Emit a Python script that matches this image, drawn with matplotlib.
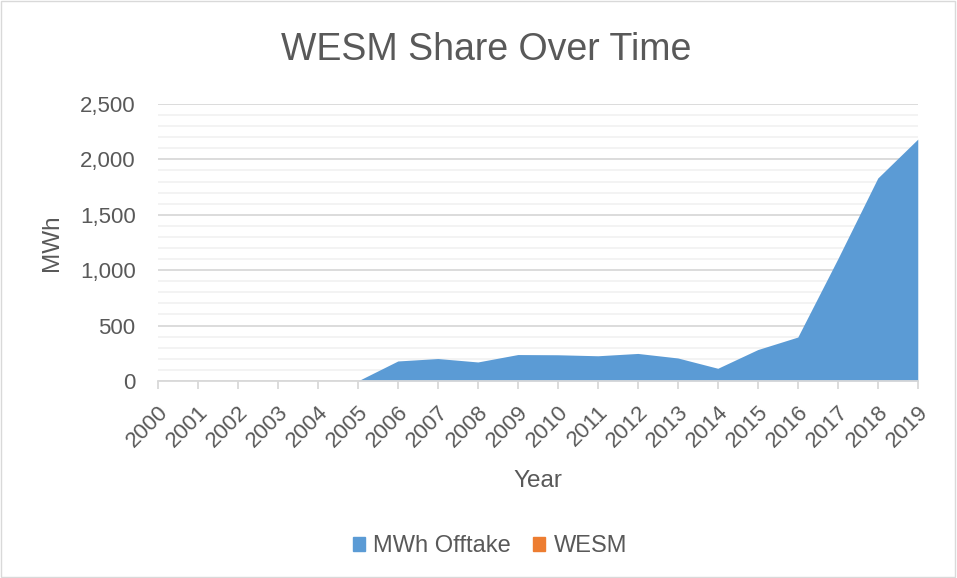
import numpy as np
import matplotlib.pyplot as plt
from matplotlib.patches import Rectangle, Patch
from matplotlib.ticker import MultipleLocator, FuncFormatter

plt.rcParams['font.family'] = ['Liberation Sans', 'DejaVu Sans']

# dane
lata = [str(r) for r in range(2000, 2020)]
mwh_offtake = [0, 0, 0, 0, 0, 0, 180, 202, 171, 238, 236, 227, 248, 207, 114,
               283, 396, 1102, 1832, 2183]
wesm = [0] * 20

kolor_tekstu = '#595959'

fig = plt.figure(figsize=(9.57, 5.78), dpi=100)
fig.patches.append(Rectangle((0.001, 0.002), 0.997, 0.996, transform=fig.transFigure,
                             fill=False, edgecolor='#d9d9d9', linewidth=1))

ax = fig.add_axes([0.165, 0.341, 0.794, 0.479])
x = np.arange(len(lata))
ax.fill_between(x, 0, mwh_offtake, color='#5b9bd5', linewidth=0, zorder=3)
ax.fill_between(x, mwh_offtake, np.array(mwh_offtake) + np.array(wesm),
                color='#ed7d31', linewidth=0, zorder=3)

ax.set_xlim(0, len(lata) - 1)
ax.set_ylim(0, 2500)
ax.yaxis.set_major_locator(MultipleLocator(500))
ax.yaxis.set_minor_locator(MultipleLocator(100))
ax.yaxis.set_major_formatter(FuncFormatter(lambda v, p: f'{int(v):,}'))
ax.grid(axis='y', which='major', color='#d9d9d9', linewidth=1.3, zorder=1)
ax.grid(axis='y', which='minor', color='#f2f2f2', linewidth=1.3, zorder=1)
ax.set_axisbelow(True)

ax.set_xticks(x)
ax.set_xticklabels(lata, rotation=45, ha='right', rotation_mode='anchor')
for s in ['top', 'right', 'left']:
    ax.spines[s].set_visible(False)
ax.spines['bottom'].set_color('#d9d9d9')
ax.spines['bottom'].set_linewidth(1.3)
ax.spines['bottom'].set_zorder(4)
ax.tick_params(axis='x', colors='#d9d9d9', length=6, width=1.3, labelcolor=kolor_tekstu,
               labelsize=16, pad=9)
ax.tick_params(axis='y', which='both', length=0, labelcolor=kolor_tekstu, labelsize=16, pad=16)

ax.set_xlabel('Year', fontsize=17.5, color=kolor_tekstu, labelpad=13)
ax.set_ylabel('MWh', fontsize=17.5, color=kolor_tekstu, labelpad=12)
fig.text(0.508, 0.913, 'WESM Share Over Time', ha='center', va='center',
         fontsize=27, color=kolor_tekstu)

uchwyty = [Patch(color='#5b9bd5', label='MWh Offtake'), Patch(color='#ed7d31', label='WESM')]
fig.legend(handles=uchwyty, loc='center', bbox_to_anchor=(0.512, 0.055), ncol=2, frameon=False,
           fontsize=17, labelcolor=kolor_tekstu, handlelength=0.5, handleheight=0.5,
           handletextpad=0.35, columnspacing=0.95)

fig.savefig('out.png', dpi=100)
